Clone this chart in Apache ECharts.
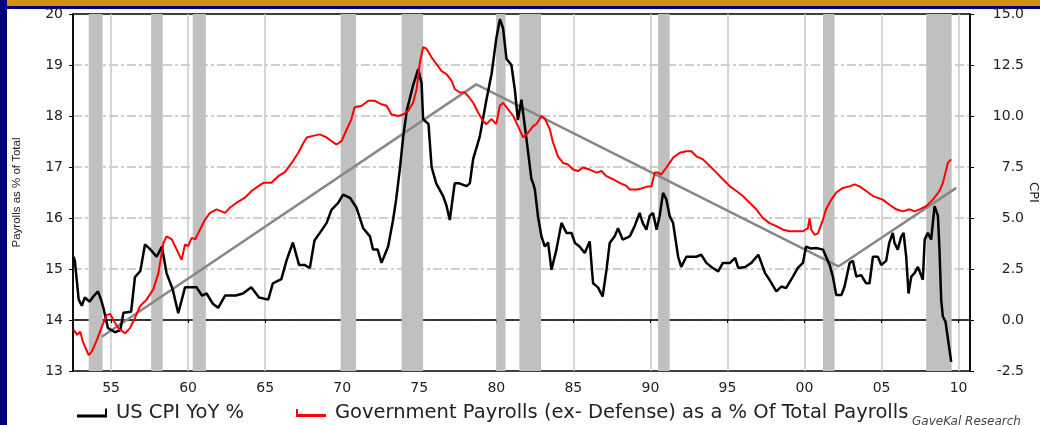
<!DOCTYPE html>
<html>
<head>
<meta charset="utf-8">
<script src="https://cdn.jsdelivr.net/npm/echarts@6/dist/echarts.min.js"></script>
<style>
  html, body { margin: 0; padding: 0; background: #fff; }
  #chart { width: 1040px; height: 425px; }
</style>
</head>
<body>
<div id="chart"></div>
<script>
// US CPI YoY % (right axis)
var cpiYears = [1952.56, 1952.65, 1952.9, 1953.1, 1953.3, 1953.6, 1953.9, 1954.15, 1954.35, 1954.5, 1954.8,
  1955.26, 1955.6, 1955.8, 1956.3, 1956.55, 1956.9, 1957.2, 1957.5, 1957.96, 1958.3, 1958.6, 1959.0, 1959.36, 1959.8,
  1960.55, 1960.9, 1961.2, 1961.6, 1961.95, 1962.4, 1963.1, 1963.56, 1964.1, 1964.6, 1965.2, 1965.5, 1966.05, 1966.4, 1966.8,
  1967.2, 1967.55, 1967.9, 1968.2, 1968.55, 1968.99, 1969.3, 1969.74, 1970.06, 1970.5, 1970.93, 1971.36, 1971.8,
  1972.0, 1972.3, 1972.55, 1972.98, 1973.3, 1973.5, 1973.74, 1973.96, 1974.2, 1974.6, 1974.93, 1975.15, 1975.25, 1975.6, 1975.8,
  1976.1, 1976.55, 1976.77, 1976.98, 1977.3, 1977.6, 1978.07, 1978.28, 1978.5, 1978.93, 1979.36, 1979.7,
  1980.0, 1980.23, 1980.44, 1980.66, 1980.98, 1981.2, 1981.4, 1981.63, 1981.74, 1981.96, 1982.28, 1982.39, 1982.5, 1982.7, 1982.93,
  1983.15, 1983.36, 1983.58, 1983.9, 1984.23, 1984.55, 1984.88, 1985.1, 1985.4, 1985.74, 1986.06, 1986.28, 1986.6, 1986.9,
  1987.15, 1987.36, 1987.68, 1987.9, 1988.2, 1988.66, 1988.98, 1989.3, 1989.5, 1989.74, 1989.95, 1990.17, 1990.4, 1990.6, 1990.82,
  1991.04, 1991.25, 1991.47, 1991.8, 1992.0, 1992.33, 1992.98, 1993.3, 1993.63, 1993.96, 1994.4, 1994.7, 1995.16, 1995.5, 1995.7,
  1996.15, 1996.55, 1997.0, 1997.2, 1997.44, 1997.73, 1998.17, 1998.5, 1998.8, 1999.25, 1999.57, 1999.9,
  2000.1, 2000.44, 2000.76, 2001.2, 2001.4, 2001.63, 2001.84, 2002.06, 2002.4, 2002.6, 2002.93, 2003.14, 2003.36, 2003.68,
  2004.0, 2004.22, 2004.44, 2004.76, 2004.98, 2005.3, 2005.5, 2005.73, 2005.84, 2006.05, 2006.28, 2006.43, 2006.6, 2006.75, 2006.93,
  2007.14, 2007.36, 2007.68, 2007.8, 2008.0, 2008.22, 2008.44, 2008.66, 2008.76, 2008.87, 2008.98, 2009.15, 2009.52];
var cpiValues = [3.1, 2.9, 1.0, 0.7, 1.1, 0.9, 1.2, 1.4, 1.0, 0.6, -0.4,
  -0.6, -0.5, 0.35, 0.4, 2.1, 2.4, 3.7, 3.5, 3.1, 3.6, 2.3, 1.5, 0.33, 1.6,
  1.6, 1.2, 1.3, 0.8, 0.6, 1.2, 1.2, 1.3, 1.6, 1.1, 1.0, 1.8, 2.0, 2.95, 3.8,
  2.7, 2.7, 2.55, 3.9, 4.27, 4.76, 5.4, 5.74, 6.15, 5.99, 5.5, 4.5, 4.1,
  3.45, 3.45, 2.8, 3.6, 4.9, 5.9, 7.4, 9.0, 10.3, 11.5, 12.3, 11.6, 9.85, 9.6, 7.5,
  6.7, 6.07, 5.6, 4.9, 6.7, 6.7, 6.56, 6.7, 7.9, 9.0, 10.8, 12.1,
  13.8, 14.75, 14.3, 12.8, 12.5, 11.3, 9.8, 10.8, 10.8, 8.85, 6.9, 6.7, 6.4, 5.1, 4.1,
  3.6, 3.8, 2.46, 3.45, 4.76, 4.27, 4.27, 3.78, 3.6, 3.28, 3.85, 1.8, 1.6, 1.15,
  2.46, 3.78, 4.1, 4.5, 3.94, 4.1, 4.6, 5.25, 4.76, 4.43, 5.1, 5.25, 4.43, 5.1, 6.23,
  5.9, 5.1, 4.76, 3.1, 2.6, 3.1, 3.1, 3.2, 2.8, 2.6, 2.38, 2.8, 2.8, 3.04, 2.55,
  2.6, 2.8, 3.2, 2.8, 2.3, 1.97, 1.4, 1.64, 1.56, 2.13, 2.55, 2.8,
  3.6, 3.5, 3.53, 3.45, 3.1, 2.7, 2.13, 1.23, 1.23, 1.64, 2.8, 2.9, 2.13, 2.2,
  1.8, 1.8, 3.1, 3.1, 2.7, 2.9, 3.78, 4.27, 3.78, 3.45, 4.1, 4.27, 3.1, 1.3, 2.13,
  2.3, 2.6, 1.97, 3.94, 4.27, 3.94, 5.58, 5.1, 3.45, 0.99, 0.17, -0.08, -2.05];

// Government payrolls (ex-defense) as % of total payrolls (left axis)
var payYears = [1952.56, 1952.8, 1953.0, 1953.2, 1953.55, 1953.75, 1954.07, 1954.4, 1954.72, 1954.94,
  1955.15, 1955.47, 1955.9, 1956.23, 1956.55, 1956.88, 1957.3, 1957.74, 1958.07, 1958.4, 1958.6, 1958.94, 1959.26, 1959.58, 1959.8,
  1960.0, 1960.23, 1960.45, 1960.77, 1961.1, 1961.42, 1961.85, 1962.4, 1962.7, 1963.15, 1963.69, 1964.12, 1964.45, 1964.88,
  1965.4, 1965.85, 1966.28, 1966.72, 1967.15, 1967.5, 1967.7, 1968.1, 1968.55, 1968.98, 1969.3, 1969.64, 1969.96,
  1970.3, 1970.6, 1970.8, 1971.26, 1971.7, 1972.1, 1972.55, 1972.88, 1973.2, 1973.63, 1973.96, 1974.28, 1974.6, 1974.83,
  1975.04, 1975.25, 1975.47, 1975.8, 1976.12, 1976.45, 1976.77, 1977.1, 1977.3, 1977.63, 1977.96, 1978.17, 1978.5, 1978.82,
  1979.14, 1979.36, 1979.69, 1980.0, 1980.23, 1980.44, 1980.77, 1981.1, 1981.41, 1981.74, 1982.06, 1982.39, 1982.6, 1982.93,
  1983.15, 1983.47, 1983.68, 1984.0, 1984.33, 1984.65, 1984.98, 1985.3, 1985.63, 1986.06, 1986.5, 1986.82, 1987.15, 1987.57,
  1988.0, 1988.44, 1988.66, 1989.2, 1989.52, 1989.85, 1990.07, 1990.28, 1990.5, 1990.7, 1991.04, 1991.47, 1991.9,
  1992.33, 1992.66, 1992.98, 1993.41, 1993.85, 1994.28, 1994.7, 1995.16, 1995.58, 1996.0, 1996.44, 1996.87, 1997.3,
  1997.73, 1998.17, 1998.6, 1999.03, 1999.47, 1999.9, 2000.22, 2000.33, 2000.44, 2000.65, 2000.87, 2001.2, 2001.4, 2001.74,
  2002.06, 2002.49, 2002.93, 2003.25, 2003.57, 2004.0, 2004.44, 2005.08, 2005.52, 2005.95, 2006.38, 2006.82, 2007.14, 2007.47,
  2007.9, 2008.33, 2008.76, 2008.98, 2009.2, 2009.3, 2009.52];
var payValues = [13.81, 13.71, 13.77, 13.55, 13.31, 13.38, 13.6, 13.87, 14.1, 14.12,
  14.0, 13.84, 13.74, 13.84, 14.04, 14.27, 14.4, 14.6, 14.92, 15.51, 15.64, 15.58, 15.38, 15.18, 15.48,
  15.45, 15.61, 15.58, 15.77, 15.97, 16.1, 16.17, 16.1, 16.2, 16.3, 16.4, 16.53, 16.6, 16.69,
  16.69, 16.82, 16.9, 17.08, 17.28, 17.48, 17.58, 17.61, 17.64, 17.58, 17.51, 17.44, 17.51,
  17.74, 17.94, 18.17, 18.2, 18.3, 18.3, 18.23, 18.2, 18.03, 18.0, 18.03, 18.1, 18.26, 18.53,
  19.05, 19.35, 19.32, 19.15, 19.02, 18.88, 18.82, 18.69, 18.53, 18.46, 18.46, 18.39, 18.26, 18.07,
  17.9, 17.84, 17.94, 17.84, 18.2, 18.26, 18.13, 18.0, 17.8, 17.58, 17.67, 17.8, 17.84, 18.0,
  17.95, 17.74, 17.48, 17.21, 17.08, 17.05, 16.95, 16.92, 16.99, 16.95, 16.89, 16.92, 16.82, 16.76,
  16.69, 16.63, 16.56, 16.56, 16.59, 16.62, 16.62, 16.89, 16.89, 16.85, 16.99, 17.18, 17.28,
  17.31, 17.31, 17.21, 17.15, 17.02, 16.89, 16.76, 16.62, 16.53, 16.43, 16.3, 16.17, 16.0,
  15.9, 15.84, 15.77, 15.74, 15.74, 15.74, 15.8, 16.0, 15.77, 15.67, 15.7, 15.97, 16.17, 16.36,
  16.5, 16.59, 16.62, 16.66, 16.62, 16.53, 16.43, 16.36, 16.26, 16.17, 16.13, 16.17, 16.13, 16.17,
  16.23, 16.36, 16.53, 16.69, 16.95, 17.08, 17.15];

// grey trend line (left axis units)
var trendYears = [1954.4, 1978.7, 2002.2, 2009.85];
var trendValues = [13.67, 18.62, 15.05, 16.59];

// recessions
var recStart = [1953.55, 1957.6, 1960.3, 1969.9, 1973.85, 1980.0, 1981.5, 1990.5, 2001.2, 2007.9];
var recEnd = [1954.45, 1958.35, 1961.15, 1970.9, 1975.25, 1980.6, 1982.9, 1991.25, 2001.95, 2009.55];

var nameCpi = 'US CPI YoY %';
var namePay = 'Government Payrolls (ex- Defense) as a % Of Total Payrolls';

function pairs(xs, ys) {
  return xs.map(function (x, i) { return [x, ys[i]]; });
}

var myChart = echarts.init(document.getElementById('chart'));
var labelFont = { fontFamily: 'DejaVu Sans', fontSize: 14, color: '#222' };

myChart.setOption({
  animation: false,
  backgroundColor: '#fff',
  grid: {
    left: 73, right: 70, top: 14, bottom: 54,
    outerBoundsMode: 'none',
    containLabel: false,
    show: true, borderColor: '#000', borderWidth: 1.5
  },
  xAxis: {
    type: 'value',
    min: 1952.53,
    max: 2010.74,
    splitNumber: 12,
    axisLine: { lineStyle: { color: '#000', width: 1.5 } },
    axisTick: { show: true, length: 3, lineStyle: { color: '#000' } },
    axisLabel: Object.assign({
      margin: 10,
      showMinLabel: false,
      showMaxLabel: false,
      formatter: function (v) { return String(Math.round(v) % 100).padStart(2, '0'); }
    }, labelFont),
    splitLine: { show: true, showMinLine: false, showMaxLine: false, lineStyle: { color: '#c8c8c8', width: 1.5 } }
  },
  yAxis: [{
    type: 'value',
    min: 13, max: 20, interval: 1,
    name: 'Payrolls as % of Total',
    nameLocation: 'middle',
    nameGap: 50,
    nameTextStyle: { fontFamily: 'Liberation Sans', fontSize: 11.5, color: '#222' },
    axisLine: { show: true, lineStyle: { color: '#000', width: 1.5 } },
    axisTick: { show: true, length: 4, lineStyle: { color: '#000' } },
    axisLabel: Object.assign({ margin: 10 }, labelFont),
    splitLine: { show: true, showMinLine: false, showMaxLine: false, lineStyle: { color: '#c0c0c0', width: 1.5, type: [9, 3, 3, 3] } }
  }, {
    type: 'value',
    min: -2.5, max: 15, interval: 2.5,
    name: 'CPI',
    nameLocation: 'middle',
    nameGap: 57,
    nameRotate: -90,
    nameMoveOverlap: false,
    nameTextStyle: { fontFamily: 'DejaVu Sans', fontSize: 13, color: '#222' },
    axisLine: { show: true, lineStyle: { color: '#000', width: 1.5 } },
    axisTick: { show: true, length: 4, lineStyle: { color: '#000' } },
    axisLabel: Object.assign({
      margin: 54,
      align: 'right',
      formatter: function (v) { return v.toFixed(1); }
    }, labelFont),
    splitLine: { show: false }
  }],
  legend: [{
    left: 72, top: 398,
    itemWidth: 30, itemHeight: 9, itemGap: 20,
    data: [{ name: nameCpi, icon: 'path://M0,6 L28,6 L28,0 L30,0 L30,9 L0,9 Z' }],
    textStyle: { fontFamily: 'DejaVu Sans', fontSize: 19.5, color: '#222', padding: [0, 0, 0, 4] }
  }, {
    left: 291, top: 398,
    itemWidth: 30, itemHeight: 9,
    data: [{ name: namePay, icon: 'path://M0,0 L2,0 L2,5 L30,5 L30,8 L0,8 Z' }],
    textStyle: { fontFamily: 'DejaVu Sans', fontSize: 19.5, color: '#222', padding: [0, 0, 0, 4] }
  }],
  graphic: [
    { type: 'rect', left: 0, top: 0, shape: { width: 1040, height: 6 }, style: { fill: '#d38f12' } },
    { type: 'rect', left: 0, top: 6, shape: { width: 1040, height: 3 }, style: { fill: '#00007f' } },
    { type: 'rect', left: 0, top: 0, shape: { width: 7, height: 425 }, style: { fill: '#00007f' } },
    { type: 'text', left: 912, top: 416, style: { text: 'GaveKal Research', font: 'italic 12px "DejaVu Sans"', fill: '#444' } }
  ],
  series: [{
    name: 'recessions',
    type: 'line',
    data: [],
    silent: true,
    markArea: {
      silent: true,
      itemStyle: { color: '#c0c0c0', opacity: 1 },
      data: recStart.map(function (s, i) { return [{ xAxis: s }, { xAxis: recEnd[i] }]; })
    }
  }, {
    name: nameCpi,
    type: 'line',
    yAxisIndex: 1,
    data: pairs(cpiYears, cpiValues),
    symbol: 'none',
    color: '#000',
    lineStyle: { color: '#000', width: 2.5 },
    z: 4
  }, {
    name: namePay,
    type: 'line',
    yAxisIndex: 0,
    data: pairs(payYears, payValues),
    symbol: 'none',
    color: '#ff0000',
    lineStyle: { color: '#ff0000', width: 2 },
    z: 5
  }, {
    name: 'trend',
    type: 'line',
    yAxisIndex: 0,
    data: pairs(trendYears, trendValues),
    symbol: 'none',
    color: '#888',
    lineStyle: { color: '#888', width: 2.5 },
    z: 3
  }]
});
</script>
</body>
</html>
